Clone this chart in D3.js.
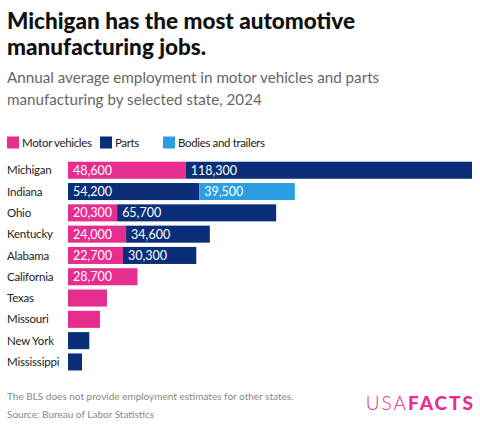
<!DOCTYPE html>
<html lang="en">
<head>
    <meta charset="UTF-8">
    <title>Automotive manufacturing jobs</title>
    <style>
        body { margin: 0; background: #fff; }
        svg text { font-family: Lato, "Noto Sans", sans-serif; }
    </style>
</head>
<body>
    <div id="workspace"></div>
    <script src="https://cdn.jsdelivr.net/npm/d3@7"></script>
    <script>
        // data
        const states = ["Michigan", "Indiana", "Ohio", "Kentucky", "Alabama", "California", "Texas", "Missouri", "New York", "Mississippi"];
        const motorVehicles = [48600, 0, 20300, 24000, 22700, 28700, 16100, 13200, 0, 0];
        const parts = [118300, 54200, 65700, 34600, 30300, 0, 0, 0, 8800, 5800];
        const bodies = [0, 39500, 0, 0, 0, 0, 0, 0, 0, 0];
        const seriesNames = ["Motor vehicles", "Parts", "Bodies and trailers"];
        const colors = ["#e62e8f", "#0a2f78", "#2a9ee0"];

        const width = 480, height = 429;
        const svg = d3.select("#workspace").append("svg")
            .attr("width", width)
            .attr("height", height);

        // title + subtitle
        svg.append("text").attr("x", 7).attr("y", 29)
            .attr("font-size", 22.5).attr("font-weight", 900).attr("fill", "#111")
            .text("Michigan has the most automotive");
        svg.append("text").attr("x", 7).attr("y", 55)
            .attr("font-size", 22.5).attr("font-weight", 900).attr("fill", "#111")
            .text("manufacturing jobs.");
        svg.append("text").attr("x", 7).attr("y", 83)
            .attr("font-size", 15.2).attr("fill", "#666")
            .text("Annual average employment in motor vehicles and parts");
        svg.append("text").attr("x", 7).attr("y", 105)
            .attr("font-size", 15.2).attr("fill", "#666")
            .text("manufacturing by selected state, 2024");

        // legend
        const legendX = [7, 100, 163];
        const legend = svg.selectAll("g.legend")
            .data(seriesNames)
            .enter()
            .append("g")
            .attr("class", "legend")
            .attr("transform", (d, i) => "translate(" + legendX[i] + ",136.5)");
        legend.append("rect")
            .attr("width", 12).attr("height", 12)
            .attr("fill", (d, i) => colors[i]);
        legend.append("text")
            .attr("x", 15).attr("y", 10.3)
            .attr("font-size", 11.5).attr("letter-spacing", -0.35).attr("fill", "#222")
            .text(d => d);

        // stacked bars
        const rows = states.map((s, i) => ({
            state: s,
            "Motor vehicles": motorVehicles[i],
            "Parts": parts[i],
            "Bodies and trailers": bodies[i]
        }));
        const stack = d3.stack().keys(seriesNames);
        const stacked = stack(rows);

        const x = d3.scaleLinear()
            .domain([0, d3.max(rows, d => d["Motor vehicles"] + d["Parts"] + d["Bodies and trailers"])])
            .range([68, 472]);
        const y = d3.scaleBand()
            .domain(states)
            .range([159.6, 372.6])
            .paddingInner(0.2)
            .paddingOuter(0.1);

        const layers = svg.selectAll("g.layer")
            .data(stacked)
            .enter()
            .append("g")
            .attr("class", "layer")
            .attr("fill", (d, i) => colors[i]);
        layers.selectAll("rect")
            .data(d => d.filter(p => p[1] > p[0]))
            .enter()
            .append("rect")
            .attr("x", d => x(d[0]))
            .attr("y", d => y(d.data.state))
            .attr("width", d => x(d[1]) - x(d[0]))
            .attr("height", y.bandwidth());

        // value labels only where the segment is wide enough
        const fmt = d3.format(",");
        layers.selectAll("text")
            .data(d => d.filter(p => x(p[1]) - x(p[0]) > 44))
            .enter()
            .append("text")
            .attr("x", d => x(d[0]) + 5)
            .attr("y", d => y(d.data.state) + y.bandwidth() / 2)
            .attr("dy", "0.36em")
            .attr("font-size", 12.5)
            .attr("fill", "#fff")
            .text(d => fmt(d[1] - d[0]));

        // state labels
        svg.selectAll("text.state")
            .data(states)
            .enter()
            .append("text")
            .attr("class", "state")
            .attr("x", 7)
            .attr("y", d => y(d) + y.bandwidth() / 2)
            .attr("dy", "0.36em")
            .attr("font-size", 11.5)
            .attr("letter-spacing", -0.2)
            .attr("fill", "#222")
            .text(d => d);

        // notes
        svg.append("text").attr("x", 7).attr("y", 400)
            .attr("font-size", 10).attr("fill", "#888")
            .text("The BLS does not provide employment estimates for other states.");
        svg.append("text").attr("x", 7).attr("y", 418)
            .attr("font-size", 10).attr("fill", "#888")
            .text("Source: Bureau of Labor Statistics");

        // logo
        const logo = svg.append("text").attr("x", 475).attr("y", 410)
            .attr("text-anchor", "end")
            .attr("font-size", 19).attr("letter-spacing", 2).attr("fill", "#e62e8f");
        logo.append("tspan").attr("font-weight", 300).text("USA");
        logo.append("tspan").attr("font-weight", 900).text("FACTS");
    </script>
</body>
</html>
